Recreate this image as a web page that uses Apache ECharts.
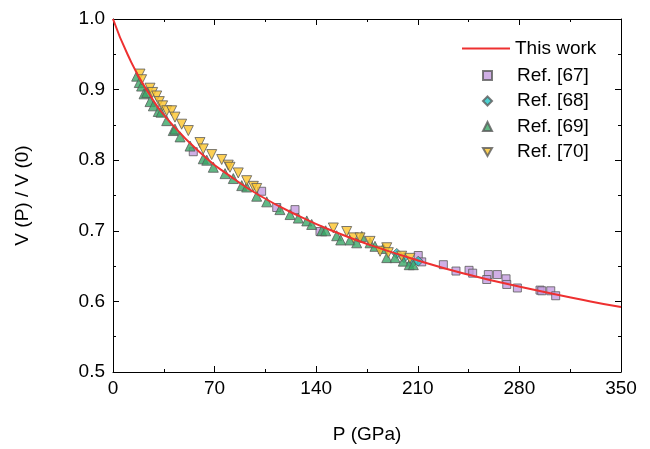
<!DOCTYPE html>
<html>
<head>
<meta charset="utf-8">
<script src="https://cdn.jsdelivr.net/npm/echarts@6/dist/echarts.min.js"></script>
<style>
  html, body { margin: 0; padding: 0; background: #fff; }
  #chart { width: 650px; height: 449px; }
</style>
</head>
<body>
<div id="chart"></div>
<script>
// fitted curve (this work)
const curveP = [0, 10, 23, 41, 66, 79, 101, 129, 151, 177, 207, 241, 282, 329, 350];
const curveV = [1.0, 0.95, 0.90, 0.85, 0.80, 0.78, 0.75, 0.72, 0.70, 0.68, 0.66, 0.64, 0.62, 0.60, 0.592];

// Ref. [67] squares
const ref67P = [55.3, 102.4, 112.8, 125.4, 142.6, 210.3, 212.7, 227.6, 236.3, 245.3, 247.8, 258.6, 257.5, 264.8, 270.8, 271.3, 278.6, 294.2, 295.4, 301.6, 305.0];
const ref67V = [0.812, 0.756, 0.733, 0.730, 0.699, 0.665, 0.656, 0.652, 0.643, 0.644, 0.640, 0.638, 0.631, 0.638, 0.632, 0.624, 0.619, 0.616, 0.615, 0.615, 0.608];

// Ref. [68] diamonds
const ref68P = [195.5, 200.5, 205.8, 210.3];
const ref68V = [0.668, 0.662, 0.654, 0.657];

// Ref. [69] up triangles
const ref69P = [16.3, 18.1, 19.7, 21.4, 23.2, 25.5, 27.8, 31.2, 33.1, 37.0, 41.5, 42.7, 46.2, 53.1, 62.2, 64.6, 69.1, 77.2, 82.9, 88.7, 92.1, 99.0, 105.9, 115.0, 122.0, 127.7, 133.5, 136.9, 143.8, 146.5, 154.1, 156.9, 163.3, 167.9, 171.4, 177.1, 180.5, 186.2, 188.6, 194.3, 200.0, 204.1, 206.9];
const ref69V = [0.919, 0.910, 0.905, 0.894, 0.896, 0.883, 0.877, 0.869, 0.868, 0.856, 0.842, 0.844, 0.833, 0.820, 0.802, 0.800, 0.790, 0.781, 0.774, 0.764, 0.762, 0.749, 0.741, 0.730, 0.723, 0.718, 0.714, 0.709, 0.700, 0.700, 0.693, 0.687, 0.687, 0.683, 0.692, 0.683, 0.678, 0.675, 0.662, 0.662, 0.657, 0.652, 0.652];

// Ref. [70] down triangles
const ref70P = [18.6, 19.7, 25.5, 27.3, 30.1, 31.9, 34.2, 37.0, 40.4, 42.7, 47.3, 51.9, 59.9, 62.2, 68.0, 74.9, 79.4, 80.6, 86.3, 92.1, 96.7, 99.0, 151.8, 161.0, 165.6, 170.2, 177.1, 184.0, 188.6, 189.7, 198.9, 204.6];
const ref70V = [0.922, 0.914, 0.902, 0.896, 0.891, 0.883, 0.877, 0.870, 0.870, 0.861, 0.851, 0.842, 0.825, 0.816, 0.808, 0.801, 0.793, 0.790, 0.782, 0.771, 0.763, 0.760, 0.704, 0.699, 0.690, 0.690, 0.685, 0.671, 0.676, 0.669, 0.664, 0.661];

const xTicks = [0, 70, 140, 210, 280, 350];
const yTicks = [0.5, 0.6, 0.7, 0.8, 0.9, 1.0];

const pair = (a, b) => a.map((v, i) => [v, b[i]]);

const font = 'Liberation Sans, Arial, sans-serif';
const border = '#5a5a5a';
const txt = { fontFamily: font, fontSize: 19, color: '#000' };

const myChart = echarts.init(document.getElementById('chart'));

const axisBase = {
  axisLine: { show: true, onZero: false, lineStyle: { color: '#000', width: 1 } },
  axisTick: { show: true, inside: true, length: 6, lineStyle: { color: '#000' } },
  minorTick: { show: true, splitNumber: 2, length: 3, lineStyle: { color: '#000' } },
  splitLine: { show: false }
};

const scatterBase = {
  type: 'scatter',
  z: 3,
  itemStyle: { borderColor: border, borderWidth: 1 }
};

const option = {
  animation: false,
  backgroundColor: '#fff',
  grid: { left: 113, right: 29, top: 19, bottom: 74 },
  legend: [
    {
      data: [{ name: 'This work', icon: 'rect' }],
      left: 457, top: 34,
      itemWidth: 48, itemHeight: 2,
      textStyle: Object.assign({ lineHeight: 19 }, txt)
    },
    {
      data: [
        { name: 'Ref. [67]', icon: 'rect' },
        { name: 'Ref. [68]', icon: 'diamond' },
        { name: 'Ref. [69]', icon: 'triangle' },
        { name: 'Ref. [70]', icon: 'path://M0,0L10,0L5,8.7Z' }
      ],
      orient: 'vertical',
      left: 477, top: 61,
      itemWidth: 9, itemHeight: 9, itemGap: 6.5,
      formatter: name => '{s|}' + name,
      textStyle: Object.assign({ lineHeight: 19, rich: { s: { width: 20 } } }, txt)
    }
  ],
  xAxis: [
    Object.assign({}, axisBase, {
      type: 'value', min: 0, max: 350, interval: 70,
      name: 'P (GPa)', nameLocation: 'middle', nameGap: 53,
      nameTextStyle: txt,
      axisLabel: Object.assign({ margin: 7, formatter: v => xTicks.includes(v) ? String(v) : '' }, txt)
    }),
    Object.assign({}, axisBase, {
      type: 'value', min: 0, max: 350, interval: 70, position: 'top',
      axisLabel: { show: false }
    })
  ],
  yAxis: [
    Object.assign({}, axisBase, {
      type: 'value', min: 0.5, max: 1.0, interval: 0.1,
      name: 'V (P) / V (0)', nameLocation: 'middle', nameGap: 81,
      nameTextStyle: txt,
      axisLabel: Object.assign({
        margin: 8,
        formatter: v => yTicks.some(t => Math.abs(t - v) < 1e-6) ? v.toFixed(1) : ''
      }, txt)
    }),
    Object.assign({}, axisBase, {
      type: 'value', min: 0.5, max: 1.0, interval: 0.1, position: 'right',
      axisLabel: { show: false }
    })
  ],
  series: [
    Object.assign({}, scatterBase, {
      name: 'Ref. [67]', symbol: 'rect', symbolSize: 8,
      itemStyle: { color: '#c49be0', borderColor: border, borderWidth: 1 },
      data: pair(ref67P, ref67V)
    }),
    Object.assign({}, scatterBase, {
      name: 'Ref. [68]', symbol: 'diamond', symbolSize: 10,
      itemStyle: { color: '#1fc5c5', borderColor: border, borderWidth: 1 },
      data: pair(ref68P, ref68V)
    }),
    Object.assign({}, scatterBase, {
      name: 'Ref. [69]', symbol: 'triangle', symbolSize: 10,
      itemStyle: { color: '#3aa667', borderColor: border, borderWidth: 1 },
      data: pair(ref69P, ref69V)
    }),
    Object.assign({}, scatterBase, {
      name: 'Ref. [70]', symbol: 'triangle', symbolSize: 10, symbolRotate: 180,
      itemStyle: { color: '#fcc42a', borderColor: border, borderWidth: 1 },
      data: pair(ref70P, ref70V)
    }),
    {
      name: 'This work', type: 'line', smooth: true, showSymbol: false, z: 5,
      lineStyle: { color: '#ee3030', width: 2 },
      itemStyle: { color: '#ee3030' },
      data: pair(curveP, curveV)
    }
  ]
};

myChart.setOption(option);
</script>
</body>
</html>
